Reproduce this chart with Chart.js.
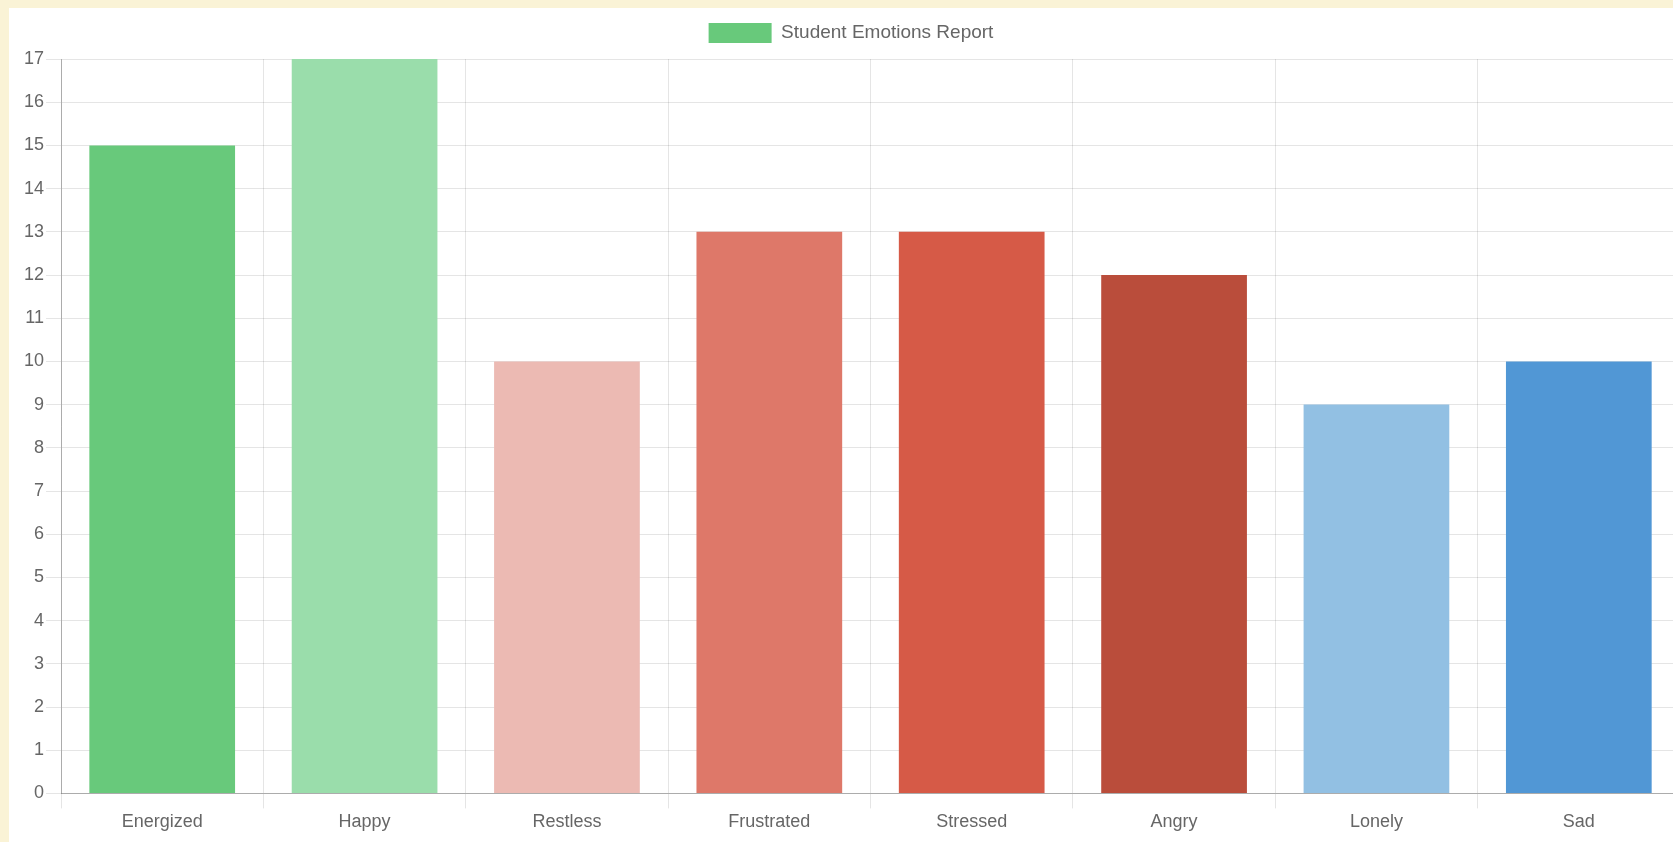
<!DOCTYPE html>
<html>
<head>
<meta charset="utf-8">
<script src="https://cdn.jsdelivr.net/npm/chart.js@4/dist/chart.umd.min.js"></script>
<style>
  html, body { margin: 0; padding: 0; background: #FAF3D6; overflow: hidden; }
  #panel { position: absolute; left: 9px; top: 8px; width: 1700px; height: 900px; background: #ffffff; }
  #wrap { position: absolute; left: 0px; top: 0px; width: 1681px; height: 828px; }
</style>
</head>
<body>
<div id="panel"><div id="wrap"><canvas id="c"></canvas></div></div>
<script>
const categories = ["Energized", "Happy", "Restless", "Frustrated", "Stressed", "Angry", "Lonely", "Sad"];
const values = [15, 17, 10, 13, 13, 12, 9, 10];
const barColors = ["#68C97B", "#9ADDAB", "#ECBAB3", "#DE7869", "#D65A47", "#BA4D3B", "#92C0E3", "#5197D5"];
const seriesLabel = "Student Emotions Report";
const yMin = 0, yMax = 17, yStep = 1;

const fontFamily = "'Helvetica Neue', Helvetica, Arial, 'Liberation Sans', sans-serif";
const font = { family: fontFamily, size: 18 };
const legendFont = { family: fontFamily, size: 19 };
const legendMargin = {
  id: 'legendMargin',
  beforeInit(chart) {
    const origFit = chart.legend.fit;
    chart.legend.fit = function () {
      origFit.bind(chart.legend)();
      this.height += 6;
    };
  }
};
new Chart(document.getElementById('c'), {
  type: 'bar',
  data: {
    labels: categories,
    datasets: [{
      label: seriesLabel,
      data: values,
      backgroundColor: barColors,
      borderWidth: 0,
      barPercentage: 0.9,
      categoryPercentage: 0.8
    }]
  },
  options: {
    responsive: true,
    maintainAspectRatio: false,
    animation: false,
    layout: { padding: { left: 13, right: 10, top: 0, bottom: 0 } },
    plugins: {
      legend: {
        display: true,
        position: 'top',
        labels: { color: '#666', font: legendFont, boxWidth: 63, boxHeight: 20, padding: 15 }
      },
      tooltip: { enabled: false }
    },
    scales: {
      x: {
        grid: { color: 'rgba(0,0,0,0.1)', tickLength: 15, offset: true },
        border: { color: 'rgba(0,0,0,0.25)' },
        ticks: { color: '#666', font: font, padding: 3 }
      },
      y: {
        min: yMin, max: yMax,
        grid: { color: 'rgba(0,0,0,0.1)', tickLength: 15 },
        border: { color: 'rgba(0,0,0,0.25)' },
        ticks: { color: '#666', font: font, stepSize: yStep, padding: 2 }
      }
    }
  },
  plugins: [legendMargin]
});
</script>
</body>
</html>
